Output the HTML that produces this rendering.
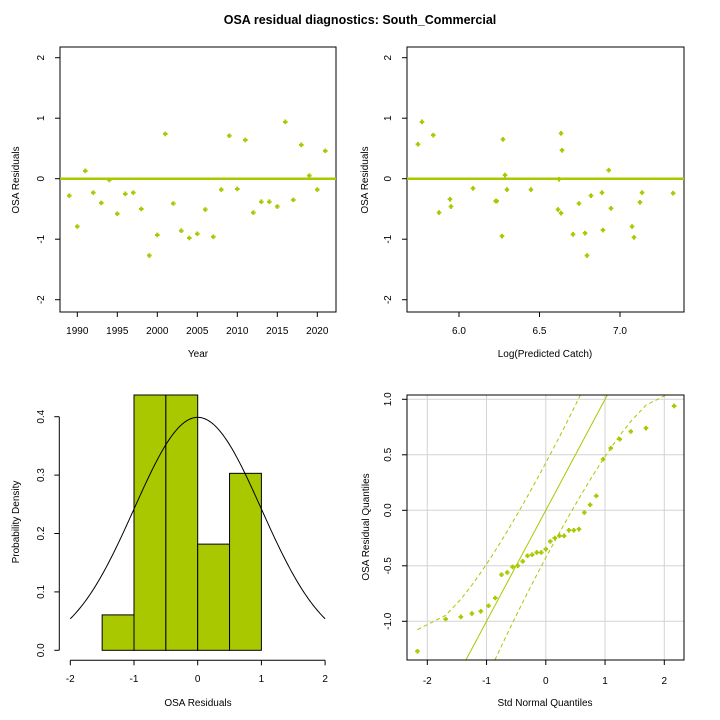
<!DOCTYPE html>
<html><head><meta charset="utf-8"><style>
html,body{margin:0;padding:0;background:#fff;width:720px;height:720px;overflow:hidden;}
svg{display:block;font-family:"Liberation Sans",Arial,sans-serif;}
</style></head><body>
<svg id="chart" width="720" height="720" viewBox="0 0 720 720">
<text x="360" y="24" text-anchor="middle" font-size="12.5" font-weight="bold">OSA residual diagnostics: South_Commercial</text>
</svg>
<script>
const years = [1989,1990,1991,1992,1993,1994,1995,1996,1997,1998,1999,2000,2001,2002,2003,2004,2005,2006,2007,2008,2009,2010,2011,2012,2013,2014,2015,2016,2017,2018,2019,2020,2021];
const residualsByYear = [-0.28,-0.79,0.13,-0.23,-0.40,-0.02,-0.58,-0.25,-0.23,-0.50,-1.27,-0.93,0.74,-0.41,-0.86,-0.98,-0.91,-0.51,-0.96,-0.18,0.71,-0.17,0.64,-0.56,-0.38,-0.38,-0.46,0.94,-0.35,0.56,0.05,-0.18,0.46];
const logPredCatch = [5.745,5.77,5.84,5.876,5.944,5.95,6.087,6.228,6.234,6.267,6.273,6.286,6.298,6.447,6.615,6.621,6.634,6.634,6.64,6.708,6.745,6.783,6.795,6.82,6.888,6.894,6.93,6.944,7.075,7.087,7.124,7.137,7.33];
const residualsByCatch = [0.57,0.94,0.72,-0.56,-0.34,-0.46,-0.16,-0.37,-0.37,-0.95,0.65,0.06,-0.18,-0.18,-0.51,-0.01,0.75,-0.57,0.47,-0.92,-0.41,-0.90,-1.27,-0.28,-0.23,-0.85,0.14,-0.49,-0.79,-0.97,-0.39,-0.23,-0.24];
const yTicks = [-2,-1,0,1,2];
const yearTicks = [1990,1995,2000,2005,2010,2015,2020];
const catchTicks = [6.0,6.5,7.0];
const histBreaks = [-1.5,-1,-0.5,0,0.5,1];
const histXTicks = [-2,-1,0,1,2];
const histYTicks = [0,0.1,0.2,0.3,0.4];
const qqXTicks = [-2,-1,0,1,2];
const qqYTicks = [-1,-0.5,0,0.5,1];

const G='#aac800';
const svg=document.getElementById('chart');
const NS='http://www.w3.org/2000/svg';
function mk(tag,attrs,parent){const e=document.createElementNS(NS,tag);for(const k in attrs)e.setAttribute(k,attrs[k]);(parent||svg).appendChild(e);return e;}
function txt(x,y,s,size,rot,parent){const t=mk('text',{x:x,y:y,'font-size':size,'text-anchor':'middle'},parent);if(rot)t.setAttribute('transform','rotate(-90 '+x+' '+y+')');t.textContent=s;return t;}
function pt(x,y,parent){return mk('path',{d:'M'+(x-1)+' '+(y-2.3)+'h2v1.3h1.3v2h-1.3v1.3h-2v-1.3h-1.3v-2h1.3z',fill:G},parent);}
function fmtTick(v){return (v<0?'-':'')+Math.abs(v);}

// ---------- Panel 1 ----------
{
const g=mk('g',{});


const L=60,R=336,T=47,B=312;
const x=v=>77.3+(v-1990)*8.0;
const y=v=>178.7-v*60.5;
const box=mk('rect',{x:L,y:T,width:R-L,height:B-T,fill:'none',stroke:'#000'},g);

const zl=mk('line',{x1:L,x2:R,y1:y(0),y2:y(0),stroke:G,'stroke-width':2.5},g);

yTicks.forEach(v=>{mk('line',{x1:L-5,x2:L,y1:y(v),y2:y(v),stroke:'#000'},g);const t=txt(44,y(v),fmtTick(v),10,true,g);});
yearTicks.forEach(v=>{mk('line',{x1:x(v),x2:x(v),y1:B,y2:B+5,stroke:'#000'},g);const t=txt(x(v),334,String(v),10,false,g);});
years.forEach((yr,i)=>{const p=pt(x(yr),y(residualsByYear[i]),g);});
const xt=txt(198,357,'Year',10,false,g);
const yt=txt(19,180,'OSA Residuals',10,true,g);
}
// ---------- Panel 2 ----------
{
const g=mk('g',{});


const L=407,R=684,T=47,B=312;
const x=v=>459+(v-6.0)*161;
const y=v=>178.7-v*60.5;
const box=mk('rect',{x:L,y:T,width:R-L,height:B-T,fill:'none',stroke:'#000'},g);

const zl=mk('line',{x1:L,x2:R,y1:y(0),y2:y(0),stroke:G,'stroke-width':2.5},g);

yTicks.forEach(v=>{mk('line',{x1:L-5,x2:L,y1:y(v),y2:y(v),stroke:'#000'},g);const t=txt(391,y(v),fmtTick(v),10,true,g);});
catchTicks.forEach(v=>{mk('line',{x1:x(v),x2:x(v),y1:B,y2:B+5,stroke:'#000'},g);const t=txt(x(v),334,v.toFixed(1),10,false,g);});
logPredCatch.forEach((c,i)=>{const p=pt(x(c),y(residualsByCatch[i]),g);});
const xt=txt(545,357,'Log(Predicted Catch)',10,false,g);
const yt=txt(368,180,'OSA Residuals',10,true,g);
}
// ---------- Panel 3 ----------
{
const g=mk('g',{});


const x=v=>197.7+v*63.7;
const y=v=>650.3-v*584;
const top=395;
const n=residualsByYear.length;
const counts=histBreaks.slice(0,-1).map((b,i)=>residualsByYear.filter(r=>(i===0?r>=b:r>b)&&r<=histBreaks[i+1]).length);
counts.forEach((c,i)=>{
  const w=histBreaks[i+1]-histBreaks[i];
  const d=c/(n*w);
  const yy=Math.max(top,y(d));
  const r=mk('rect',{x:x(histBreaks[i]),y:yy,width:x(histBreaks[i+1])-x(histBreaks[i]),height:y(0)-yy,fill:G,stroke:'#000','stroke-width':1},g);
  
});
let d='';for(let i=0;i<=200;i++){const v=-2+4*i/200;const f=Math.exp(-v*v/2)/Math.sqrt(2*Math.PI);d+=(i?'L':'M')+x(v).toFixed(2)+' '+y(f).toFixed(2);}
const c=mk('path',{d:d,fill:'none',stroke:'#000','stroke-width':1},g);

mk('line',{x1:59.3,x2:59.3,y1:y(0),y2:y(0.4),stroke:'#000'},g);
histYTicks.forEach(v=>{mk('line',{x1:54.3,x2:59.3,y1:y(v),y2:y(v),stroke:'#000'},g);const t=txt(44,y(v),v.toFixed(1),10,true,g);});
mk('line',{x1:x(-2),x2:x(2),y1:660.3,y2:660.3,stroke:'#000'},g);
histXTicks.forEach(v=>{mk('line',{x1:x(v),x2:x(v),y1:660.3,y2:665.3,stroke:'#000'},g);const t=txt(x(v),682,fmtTick(v),10,false,g);});
const xt=txt(198,706,'OSA Residuals',10,false,g);
const yt=txt(19,522,'Probability Density',10,true,g);
}
// ---------- Panel 4 ----------
function qnorm(p){const a=[-39.69683028665376,220.9460984245205,-275.9285104469687,138.357751867269,-30.66479806614716,2.506628277459239],b=[-54.47609879822406,161.5858368580409,-155.6989798598866,66.80131188771972,-13.28068155288572],c=[-0.007784894002430293,-0.3223964580411365,-2.400758277161838,-2.549732539343734,4.374664141464968,2.938163982698783],dd=[0.007784695709041462,0.3224671290700398,2.445134137142996,3.754408661907416];const pl=0.02425;let q,r;if(p<pl){q=Math.sqrt(-2*Math.log(p));return(((((c[0]*q+c[1])*q+c[2])*q+c[3])*q+c[4])*q+c[5])/((((dd[0]*q+dd[1])*q+dd[2])*q+dd[3])*q+1);}if(p>1-pl){q=Math.sqrt(-2*Math.log(1-p));return-(((((c[0]*q+c[1])*q+c[2])*q+c[3])*q+c[4])*q+c[5])/((((dd[0]*q+dd[1])*q+dd[2])*q+dd[3])*q+1);}q=p-0.5;r=q*q;return(((((a[0]*r+a[1])*r+a[2])*r+a[3])*r+a[4])*r+a[5])*q/(((((b[0]*r+b[1])*r+b[2])*r+b[3])*r+b[4])*r+1);}
function clippedPath(pts,T,B){
  let d='',pen=false;
  for(let i=1;i<pts.length;i++){
    let [x0,y0]=pts[i-1],[x1,y1]=pts[i];
    let t0=0,t1=1;const dy=y1-y0;
    if(dy===0){if(y0<T||y0>B){pen=false;continue;}}
    else{let ta=(T-y0)/dy,tb=(B-y0)/dy;if(ta>tb)[ta,tb]=[tb,ta];t0=Math.max(t0,ta);t1=Math.min(t1,tb);if(t0>t1){pen=false;continue;}}
    const ax=x0+(x1-x0)*t0,ay=y0+dy*t0,bx=x0+(x1-x0)*t1,by=y0+dy*t1;
    if(!pen||t0>0)d+='M'+ax.toFixed(2)+' '+ay.toFixed(2);
    d+='L'+bx.toFixed(2)+' '+by.toFixed(2);
    pen=(t1===1);
  }
  return d;
}
{
const g=mk('g',{});


const L=407,R=684,T=395,B=660;
const x=v=>545.8+v*59.25;
const y=v=>510.3-v*111;
const yinv=p=>(510.3-p)/111;
qqXTicks.forEach(v=>{const l=mk('line',{x1:x(v),x2:x(v),y1:T,y2:B,stroke:'#d3d3d3'},g);});
qqYTicks.forEach(v=>{const l=mk('line',{x1:L,x2:R,y1:y(v),y2:y(v),stroke:'#d3d3d3'},g);});
const sorted=residualsByYear.slice().sort((a,b)=>a-b);const n=sorted.length;
const theo=sorted.map((_,i)=>qnorm((i+0.5)/n));
const vB=yinv(B),vT=yinv(T);
const ref=mk('line',{x1:x(vB),y1:B,x2:x(vT),y2:T,stroke:G,'stroke-width':1},g);

const upPts=[],loPts=[];
theo.forEach((q,i)=>{const p=(i+0.5)/n;const se=Math.sqrt(p*(1-p)/n)/(Math.exp(-q*q/2)/Math.sqrt(2*Math.PI));upPts.push([x(q),y(q+1.96*se)]);loPts.push([x(q),y(q-1.96*se)]);});
const u=mk('path',{d:clippedPath(upPts,T,B),fill:'none',stroke:G,'stroke-dasharray':'4,3'},g);
const lw=mk('path',{d:clippedPath(loPts,T,B),fill:'none',stroke:G,'stroke-dasharray':'4,3'},g);
sorted.forEach((v,i)=>{const p=pt(x(theo[i]),y(v),g);});
const box=mk('rect',{x:L,y:T,width:R-L,height:B-T,fill:'none',stroke:'#000'},g);

qqXTicks.forEach(v=>{mk('line',{x1:x(v),x2:x(v),y1:B,y2:B+5,stroke:'#000'},g);const t=txt(x(v),684,fmtTick(v),10,false,g);});
qqYTicks.forEach(v=>{mk('line',{x1:L-5,x2:L,y1:y(v),y2:y(v),stroke:'#000'},g);const t=txt(391,y(v),v.toFixed(1),10,true,g);});
const xt=txt(545,706,'Std Normal Quantiles',10,false,g);
const yt=txt(369,527,'OSA Residual Quantiles',10,true,g);
}
</script>
</body></html>
